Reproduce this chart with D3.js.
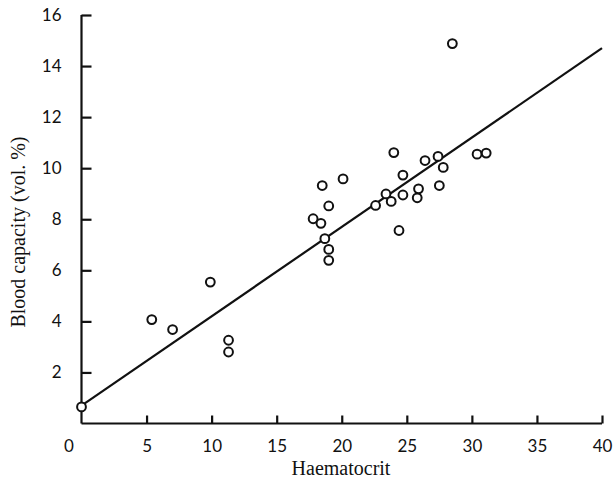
<!DOCTYPE html>
<html>
<head>
<meta charset="utf-8">
<script src="https://cdn.jsdelivr.net/npm/d3@7"></script>
<style>
  body { margin: 0; background: #fff; }
  .tick text { font-family: Lato, "Open Sans", sans-serif; font-size: 17px; fill: #111; }
  .title { font-family: "Liberation Serif", "DejaVu Serif", serif; font-size: 20px; fill: #111; }
</style>
</head>
<body>
<div id="chart"></div>
<script>
// haematocrit (x) and blood capacity (y)
let haematocrit = [0.0, 5.4, 7.0, 9.9, 11.3, 11.3, 17.8, 18.4, 18.5, 18.7, 19.0, 19.0, 19.0,
                   20.1, 22.6, 23.4, 23.8, 24.0, 24.4, 24.7, 24.7, 25.9, 25.8, 26.4, 27.4,
                   27.5, 27.8, 28.5, 30.4, 31.1];
let capacity = [0.65, 4.07, 3.68, 5.54, 3.26, 2.80, 8.02, 7.84, 9.32, 7.24, 8.52, 6.82, 6.39,
                9.58, 8.54, 8.99, 8.70, 10.61, 7.56, 9.73, 8.95, 9.19, 8.84, 10.30, 10.46,
                9.32, 10.03, 14.88, 10.55, 10.59];
// fitted line end points
let fitX = [0, 40];
let fitY = [0.7, 14.7];
let xTicks = [0, 5, 10, 15, 20, 25, 30, 35, 40];
let yTicks = [2, 4, 6, 8, 10, 12, 14, 16];

let W = 614, H = 480;
let svg = d3.select("#chart").append("svg")
    .attr("width", W)
    .attr("height", H);

let x = d3.scaleLinear().domain([0, 40]).range([81.5, 602]);
let y = d3.scaleLinear().domain([0, 16]).range([423.5, 15]);

// y axis, ticks pointing inward
let yAxis = svg.append("g")
    .attr("transform", "translate(" + x(0) + ",0)")
    .call(d3.axisLeft(y).tickValues(yTicks).tickSizeInner(-10).tickSizeOuter(0).tickPadding(20));
yAxis.select(".domain").attr("d", "M0," + y(0) + "V" + y(16));

// x axis, ticks pointing up
let xAxis = svg.append("g")
    .attr("transform", "translate(0," + y(0) + ")")
    .call(d3.axisBottom(x).tickValues(xTicks).tickSizeInner(-8).tickSizeOuter(0).tickPadding(16));
xAxis.select(".domain").attr("d", "M" + x(0) + ",0H" + x(40));
xAxis.selectAll(".tick").filter(d => d === 0).select("line").remove();
xAxis.selectAll(".tick").filter(d => d === 0).select("text").attr("dx", -13);

svg.selectAll(".domain, .tick line")
    .attr("stroke", "#111")
    .attr("stroke-width", 2.2);

// regression line
let line = d3.line().x(d => x(d[0])).y(d => y(d[1]));
svg.append("path")
    .datum(d3.zip(fitX, fitY))
    .attr("d", line)
    .attr("fill", "none")
    .attr("stroke", "#111")
    .attr("stroke-width", 2.2);

// points
svg.selectAll(".pt")
    .data(d3.zip(haematocrit, capacity))
    .enter()
    .append("circle")
    .attr("class", "pt")
    .attr("cx", d => x(d[0]))
    .attr("cy", d => y(d[1]))
    .attr("r", 4.4)
    .attr("fill", "#fff")
    .attr("stroke", "#111")
    .attr("stroke-width", 2);

svg.append("text")
    .attr("class", "title")
    .attr("x", 341)
    .attr("y", 475)
    .attr("text-anchor", "middle")
    .text("Haematocrit");

svg.append("text")
    .attr("class", "title")
    .attr("transform", "translate(25,232) rotate(-90)")
    .attr("text-anchor", "middle")
    .text("Blood capacity (vol. %)");
</script>
</body>
</html>
